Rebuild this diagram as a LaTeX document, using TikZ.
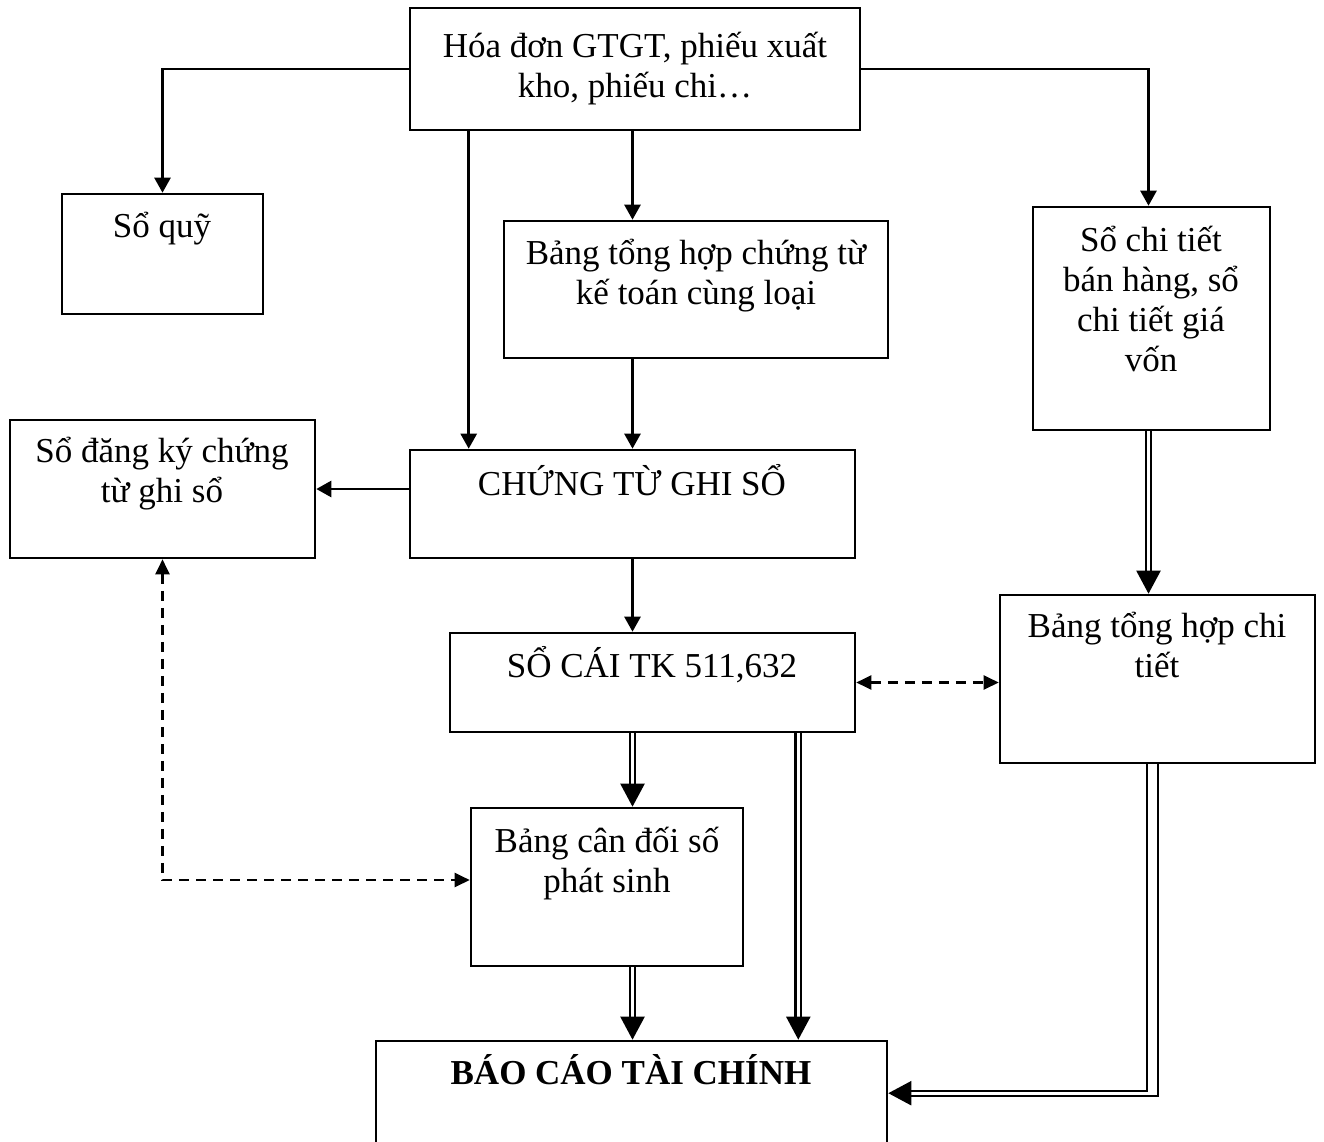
\documentclass[tikz,border=0pt]{standalone}
\usepackage{fontspec}
\setmainfont{Liberation Serif}
\usetikzlibrary{arrows.meta,fit,calc}

\newcommand\boxtext[2]{\parbox[t]{#1}{\centering #2}}

\tikzset{
  x=1pt, y=-1pt,
  frame/.style={draw, line width=2.6pt, inner sep=0pt, fit={#1}},
  lbl/.style={anchor=base, inner sep=0pt, font=\fontsize{35}{40}\selectfont},
  arr/.style={line width=2.6pt, -{Triangle[length=15pt,width=16pt]}},
  dblarr/.style={double, double distance=3.5pt, line width=2.2pt,
                 -{Triangle[length=23pt,width=24pt]}},
  rail/.style={line width=2.2pt, shorten >=20pt},
  bigtip/.style={line width=2.2pt, -{Triangle[length=23pt,width=24pt]}},
  dasharr/.style={line width=2.2pt, dash pattern=on 10pt off 7pt,
                  {Triangle[length=15pt,width=14pt]}-{Triangle[length=15pt,width=14pt]}},
}

\begin{document}
\begin{tikzpicture}
\clip (0,0) rectangle (1324,1142);
\fill[white] (0,0) rectangle (1324,1142);

% boxes
\node[frame={(410,8)(860,130)}]     (src)  {};
\node[frame={(62,194)(263,314)}]    (quy)  {};
\node[frame={(504,221)(888,358)}]   (bth)  {};
\node[frame={(1033,207)(1270,430)}] (sct)  {};
\node[frame={(10,420)(315,558)}]    (dk)   {};
\node[frame={(410,450)(855,558)}]   (ctgs) {};
\node[frame={(450,633)(855,732)}]   (sc)   {};
\node[frame={(1000,595)(1315,763)}] (thct) {};
\node[frame={(471,808)(743,966)}]   (cdps) {};
\node[frame={(376,1041)(887,1170)}] (bctc) {};

% texts
\node[lbl] (srct)  at (635,58)    {\boxtext{440pt}{Hóa đơn GTGT, phiếu xuất\\kho, phiếu chi…}};
\node[lbl] (quyt)  at (162,237)   {\boxtext{190pt}{Sổ quỹ}};
\node[lbl] (btht)  at (696,264)   {\boxtext{380pt}{Bảng tổng hợp chứng từ\\kế toán cùng loại}};
\node[lbl] (sctt)  at (1151,251)  {\boxtext{230pt}{Sổ chi tiết\\bán hàng, sổ\\chi tiết giá\\vốn}};
\node[lbl] (dkt)   at (162,462)   {\boxtext{300pt}{Sổ đăng ký chứng\\từ ghi sổ}};
\node[lbl] (ctgst) at (632,495)   {\boxtext{440pt}{CHỨNG TỪ GHI SỔ}};
\node[lbl] (sct2)  at (652,677)   {\boxtext{400pt}{SỔ CÁI TK 511,632}};
\node[lbl] (thctt) at (1157,637)  {\boxtext{310pt}{Bảng tổng hợp chi\\tiết}};
\node[lbl] (cdpst) at (607,852)   {\boxtext{270pt}{Bảng cân đối số\\phát sinh}};
\node[lbl] (bctct) at (631,1084)  {\boxtext{500pt}{\bfseries BÁO CÁO TÀI CHÍNH}};

% single arrows
\draw[arr] (src.west) -| (quy.north);
\draw[arr] (src.east) -| ([xshift=-3pt]sct.north);
\draw[arr] ([xshift=60pt]src.south west) -- ([xshift=60pt]ctgs.north west);
\draw[arr] (src.south -| ctgs.north) -- (bth.north -| ctgs.north);
\draw[arr] (bth.south -| ctgs.north) -- (ctgs.north);
\draw[arr] (ctgs.west |- dk.east) -- (dk.east);
\draw[arr] (ctgs.south) -- (ctgs.south |- sc.north);

% dashed two-way arrows
\draw[dasharr] (sc.east) -- (sc.east -| thct.west);
\draw[dasharr] (dk.south) |- ([yshift=7pt]cdps.west);

% double arrows
\draw[dblarr] ([xshift=-3pt]sct.south) -- ([xshift=-3pt]sct.south |- thct.north);
\draw[dblarr] (ctgs.south |- sc.south) -- (ctgs.south |- cdps.north);
\draw[dblarr] ([xshift=-58pt]sc.south east) -- ([xshift=-58pt]sc.south east |- bctc.north);
\draw[dblarr] (ctgs.south |- cdps.south) -- (ctgs.south |- bctc.north);

% wide double rail from the detail summary round into the report
\draw[rail] ([xshift=-10.5pt]thct.south) |- ([yshift=-51pt]bctc.north east);
\draw[rail] ([xshift=0.5pt]thct.south) |- ([yshift=-56pt]bctc.north east);
\draw[bigtip] ([xshift=22pt,yshift=-53.5pt]bctc.north east) -- ([yshift=-53.5pt]bctc.north east);
\end{tikzpicture}
\end{document}
